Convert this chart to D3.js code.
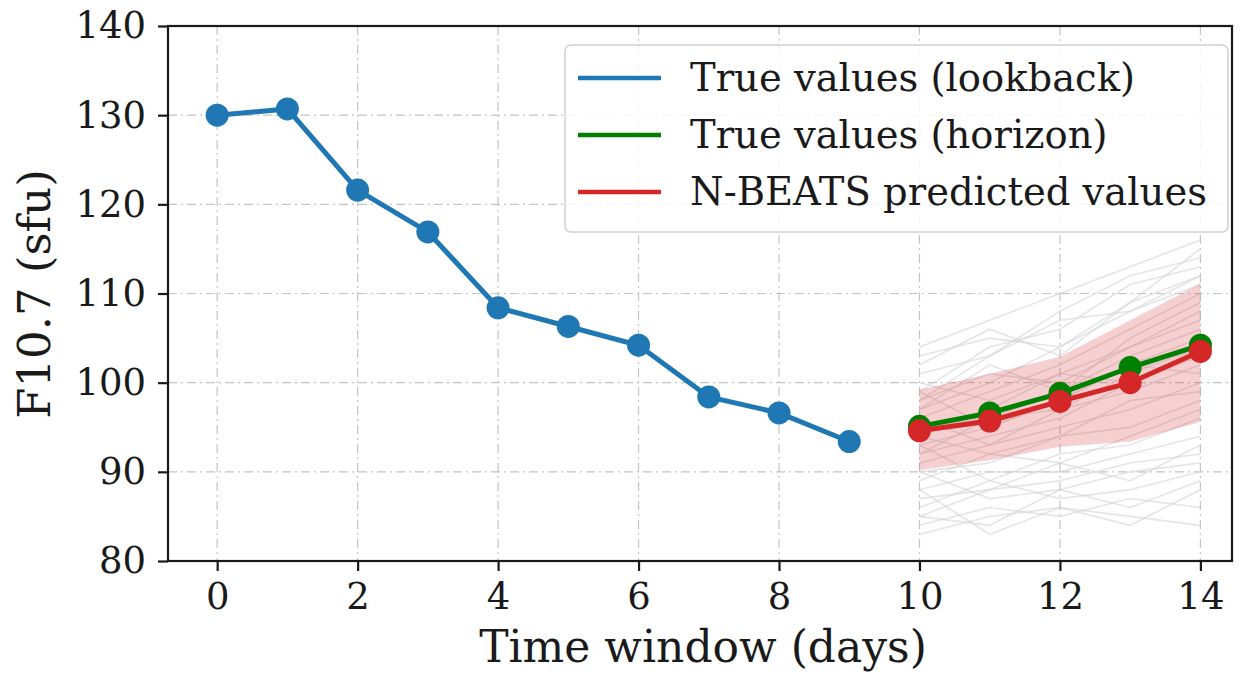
<!DOCTYPE html>
<html>
<head>
<meta charset="utf-8">
<script src="https://cdn.jsdelivr.net/npm/d3@7"></script>
<style>
  html, body { margin: 0; padding: 0; background: #fff; }
  svg { display: block; font-family: "DejaVu Serif", serif; }
</style>
</head>
<body>
<svg id="chart" width="1242" height="675"></svg>
<script>
// lookback (days 0-9)
const lookbackDays = [0, 1, 2, 3, 4, 5, 6, 7, 8, 9];
const lookbackVals = [130.0, 130.7, 121.6, 116.9, 108.4, 106.3, 104.2, 98.4, 96.6, 93.4];

// horizon (days 10-14)
const horizonDays = [10, 11, 12, 13, 14];
const horizonTrue = [95.1, 96.6, 98.8, 101.7, 104.2];
const horizonPred = [94.6, 95.7, 97.9, 100.0, 103.5];
const bandUpper   = [99.2, 101.0, 102.9, 107.0, 111.1];
const bandLower   = [90.2, 91.3, 92.8, 93.4, 95.6];

// sampled forecasts (grey)
const samples = [
  [104, 107, 110, 113, 116],
  [101, 103, 108, 112, 114],
  [99, 104, 106, 111, 113],
  [97, 100, 104, 109, 112],
  [103, 105, 104, 108, 111],
  [96, 99, 102, 106, 110],
  [94, 97, 101, 104, 108],
  [98, 101, 100, 104, 107],
  [95, 96, 99, 103, 106],
  [93, 95, 98, 102, 105],
  [100, 98, 101, 100, 104],
  [92, 94, 96, 100, 103],
  [96, 93, 97, 99, 102],
  [91, 93, 95, 97, 100],
  [94, 92, 94, 98, 99],
  [90, 91, 94, 95, 98],
  [89, 92, 91, 94, 97],
  [93, 89, 92, 93, 96],
  [88, 90, 90, 92, 94],
  [87, 88, 91, 89, 93],
  [90, 87, 88, 90, 91],
  [86, 89, 87, 88, 90],
  [85, 84, 88, 86, 89],
  [84, 86, 85, 87, 86],
  [83, 85, 86, 84, 88],
  [88, 83, 86, 85, 84],
  [97, 102, 99, 105, 109],
  [92, 96, 97, 101, 104],
  [99, 95, 98, 102, 101],
  [85, 88, 89, 91, 92],
  [102, 106, 103, 109, 115],
  [98, 103, 107, 108, 112]
];

const xTicks = [0, 2, 4, 6, 8, 10, 12, 14];
const yTicks = [80, 90, 100, 110, 120, 130, 140];

const legendLabels = ["True values (lookback)", "True values (horizon)", "N-BEATS predicted values"];
const colors = { blue: "#1f77b4", green: "#008000", red: "#d62728" };
const legendColors = [colors.blue, colors.green, colors.red];

/* ---------------- layout ---------------- */
const svg = d3.select("#chart");
const m = { left: 168, right: 1232, top: 26, bottom: 561 };
const ink = "#1a1a1a";

const x = d3.scaleLinear().domain([-0.7, 14.45]).range([m.left, m.right]);
const y = d3.scaleLinear().domain([80, 140]).range([m.bottom, m.top]);

// grid
const grid = svg.append("g").attr("stroke", "#c4c4c4").attr("stroke-width", 1.2)
  .attr("stroke-dasharray", "9,4,2,4");
grid.selectAll("line.v").data(xTicks).join("line")
  .attr("x1", d => x(d)).attr("x2", d => x(d))
  .attr("y1", m.top).attr("y2", m.bottom);
grid.selectAll("line.h").data(yTicks).join("line")
  .attr("x1", m.left).attr("x2", m.right)
  .attr("y1", d => y(d)).attr("y2", d => y(d));

/* ---------------- data ---------------- */
const line = d3.line().x(d => x(d[0])).y(d => y(d[1]));

svg.append("g").selectAll("path").data(samples).join("path")
  .attr("d", s => line(s.map((v, i) => [horizonDays[i], v])))
  .attr("fill", "none").attr("stroke", "#d4d4d4")
  .attr("stroke-opacity", 0.6).attr("stroke-width", 1.6);

const area = d3.area()
  .x((d, i) => x(horizonDays[i]))
  .y0((d, i) => y(bandLower[i]))
  .y1((d, i) => y(bandUpper[i]));
svg.append("path").attr("d", area(horizonDays))
  .attr("fill", colors.red).attr("fill-opacity", 0.22);

function series(xs, ys, color) {
  const pts = xs.map((d, i) => [d, ys[i]]);
  const g = svg.append("g");
  g.append("path").attr("d", line(pts))
    .attr("fill", "none").attr("stroke", color).attr("stroke-width", 5);
  g.selectAll("circle").data(pts).join("circle")
    .attr("cx", d => x(d[0])).attr("cy", d => y(d[1]))
    .attr("r", 11.5).attr("fill", color);
}
series(lookbackDays, lookbackVals, colors.blue);
series(horizonDays, horizonTrue, colors.green);
series(horizonDays, horizonPred, colors.red);

/* ---------------- axes ---------------- */
svg.append("rect")
  .attr("x", m.left).attr("y", m.top)
  .attr("width", m.right - m.left).attr("height", m.bottom - m.top)
  .attr("fill", "none").attr("stroke", ink).attr("stroke-width", 2.2);

const xAxis = svg.append("g").attr("transform", `translate(0,${m.bottom})`)
  .call(d3.axisBottom(x).tickValues(xTicks).tickSize(10).tickPadding(12).tickFormat(d3.format("d")));
const yAxis = svg.append("g").attr("transform", `translate(${m.left},0)`)
  .call(d3.axisLeft(y).tickValues(yTicks).tickSize(10).tickPadding(12).tickFormat(d3.format("d")));
[xAxis, yAxis].forEach(a => {
  a.select(".domain").remove();
  a.selectAll(".tick line").attr("stroke", ink).attr("stroke-width", 2.2);
  a.selectAll(".tick text").attr("fill", ink)
    .style("font-family", "DejaVu Serif").style("font-size", "37px");
});

svg.append("text")
  .attr("x", 703).attr("y", 662)
  .attr("text-anchor", "middle").attr("fill", ink)
  .style("font-size", "44px").text("Time window (days)");

svg.append("text")
  .attr("transform", `translate(50,${294}) rotate(-90)`)
  .attr("text-anchor", "middle").attr("fill", ink)
  .style("font-size", "45px").text("F10.7 (sfu)");

/* ---------------- legend ---------------- */
const lg = svg.append("g").attr("transform", "translate(565,45)");
lg.append("rect").attr("width", 663).attr("height", 187).attr("rx", 6)
  .attr("fill", "#fff").attr("fill-opacity", 0.85)
  .attr("stroke", "#d0d0d0").attr("stroke-width", 1.5);
const rows = lg.selectAll("g").data(legendLabels).join("g")
  .attr("transform", (d, i) => `translate(0,${33 + i * 57})`);
rows.append("line").attr("x1", 13).attr("x2", 96)
  .attr("stroke", (d, i) => legendColors[i]).attr("stroke-width", 4.5);
rows.append("text").attr("x", 125).attr("dy", "0.35em")
  .attr("fill", ink).style("font-size", "38.5px").text(d => d);
</script>
</body>
</html>
